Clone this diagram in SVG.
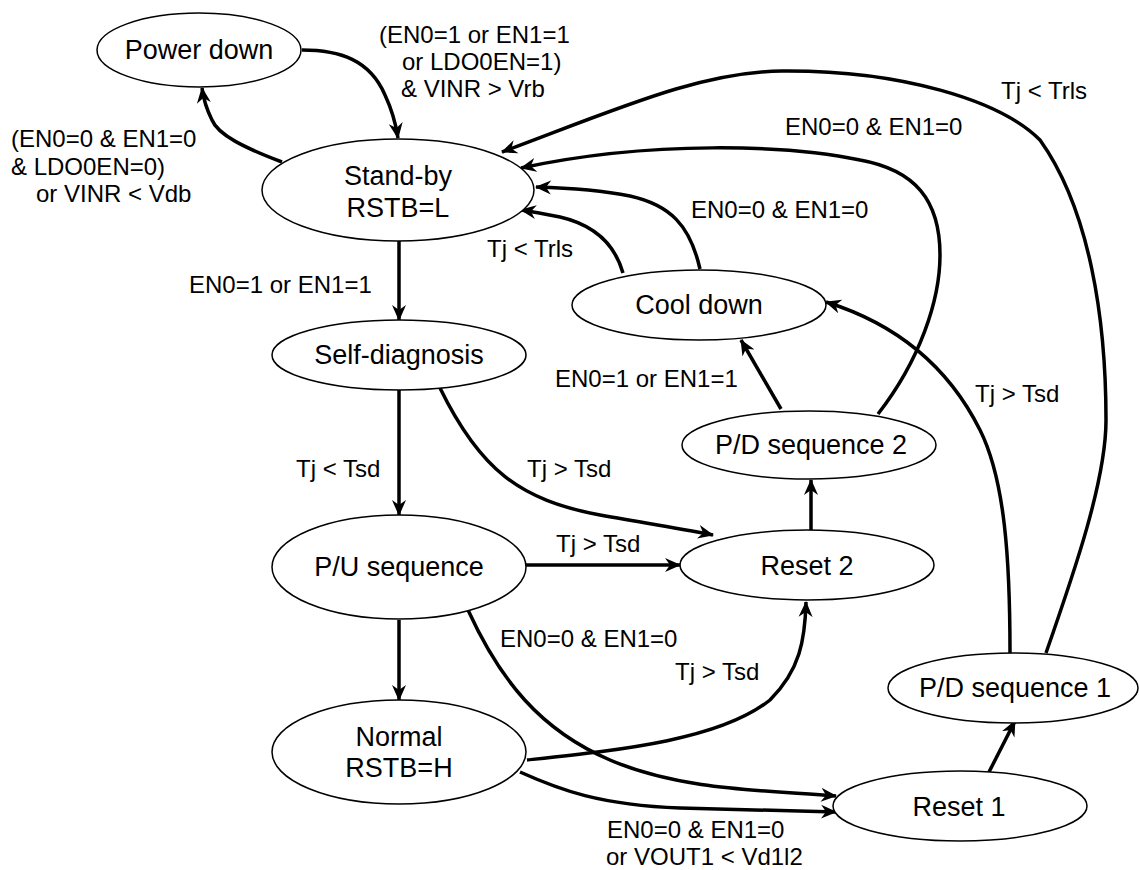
<svg xmlns="http://www.w3.org/2000/svg" width="1139" height="870" viewBox="0 0 1139 870">
<style>
.node ellipse{fill:#fff;stroke:#000;stroke-width:1.5}
.nt{font-family:"Liberation Sans",Arial,sans-serif;font-size:27px;text-anchor:middle;fill:#000}
.lb{font-family:"Liberation Sans",Arial,sans-serif;font-size:24px;fill:#000}
.edge{fill:none;stroke:#000;stroke-width:3.5;marker-end:url(#ah)}
</style>
<defs>
<marker id="ah" markerUnits="userSpaceOnUse" viewBox="0 0 16 16" refX="15" refY="8" markerWidth="16" markerHeight="16" orient="auto">
<path d="M0,1 L16,8 L0,15 L5,8 z" fill="#000"/>
</marker>
</defs>
<rect width="1139" height="870" fill="#fff"/>
<g id="connectors">
<path class="edge" d="M302,50 C340,50 370,60 385,95 C392,110 396,125 398,138"/>
<path class="edge" d="M282,162 C245,148 218,135 212,120 C206,108 203,96 202,88"/>
<path class="edge" d="M399,241 L399,320"/>
<path class="edge" d="M399,389 L399,515"/>
<path class="edge" d="M440,388 C480,470 520,500 600,515 C650,524 690,530 713,535"/>
<path class="edge" d="M526,565 L680,565"/>
<path class="edge" d="M399,620 L399,700"/>
<path class="edge" d="M468,610 C500,680 540,730 610,760 C680,790 760,790 836,796"/>
<path class="edge" d="M527,760 C620,750 720,740 770,700 C800,670 805,640 806,602"/>
<path class="edge" d="M520,772 C560,790 600,805 680,808 C740,810 790,811 836,812"/>
<path class="edge" d="M989,772 L1015,721"/>
<path class="edge" d="M811,531 L811,480"/>
<path class="edge" d="M781,409 L741,340"/>
<path class="edge" d="M1010,653 C1010,560 1005,480 980,430 C950,370 900,325 826,302"/>
<path class="edge" d="M623,273 C615,245 595,225 560,217 C545,214 535,212 521,210"/>
<path class="edge" d="M700,269 C690,225 670,205 630,196 C600,190 570,188 536,187"/>
<path class="edge" d="M878,414 C920,360 940,300 940,255 C940,200 915,170 860,160 C790,145 650,140 521,168"/>
<path class="edge" d="M1046,653 C1075,570 1106,480 1106,420 C1106,320 1090,210 1040,140 C1000,100 900,70 782,71 C700,72 620,108 502,152"/>
</g>
<g id="labels">
<text class="lb" x="379" y="43">(EN0=1 or EN1=1</text>
<text class="lb" x="402" y="70">or LDO0EN=1)</text>
<text class="lb" x="401" y="97">&amp; VINR &gt; Vrb</text>
<text class="lb" x="11" y="147">(EN0=0 &amp; EN1=0</text>
<text class="lb" x="11" y="175">&amp; LDO0EN=0)</text>
<text class="lb" x="36" y="202">or VINR &lt; Vdb</text>
<text class="lb" x="189" y="293">EN0=1 or EN1=1</text>
<text class="lb" x="487" y="257">Tj &lt; Trls</text>
<text class="lb" x="691" y="218">EN0=0 &amp; EN1=0</text>
<text class="lb" x="785" y="135">EN0=0 &amp; EN1=0</text>
<text class="lb" x="1001" y="99">Tj &lt; Trls</text>
<text class="lb" x="975" y="402">Tj &gt; Tsd</text>
<text class="lb" x="555" y="387">EN0=1 or EN1=1</text>
<text class="lb" x="296" y="477">Tj &lt; Tsd</text>
<text class="lb" x="527" y="477">Tj &gt; Tsd</text>
<text class="lb" x="556" y="552">Tj &gt; Tsd</text>
<text class="lb" x="500" y="647">EN0=0 &amp; EN1=0</text>
<text class="lb" x="675" y="680">Tj &gt; Tsd</text>
<text class="lb" x="607" y="838">EN0=0 &amp; EN1=0</text>
<text class="lb" x="606" y="865">or VOUT1 &lt; Vd1l2</text>
</g>
<g id="power-down" class="node"><ellipse cx="199" cy="50" rx="102" ry="37"/><text class="nt" x="199" y="59">Power down</text></g>
<g id="stand-by" class="node"><ellipse cx="398" cy="190" rx="136" ry="51"/><text class="nt" x="398" y="185">Stand-by</text><text class="nt" x="398" y="217">RSTB=L</text></g>
<g id="self-diagnosis" class="node"><ellipse cx="399" cy="355" rx="127" ry="35"/><text class="nt" x="399" y="364">Self-diagnosis</text></g>
<g id="pu-sequence" class="node"><ellipse cx="399" cy="567" rx="127" ry="52"/><text class="nt" x="399" y="576">P/U sequence</text></g>
<g id="normal" class="node"><ellipse cx="399" cy="752" rx="127" ry="52"/><text class="nt" x="399" y="746">Normal</text><text class="nt" x="399" y="777">RSTB=H</text></g>
<g id="cool-down" class="node"><ellipse cx="699" cy="305" rx="127" ry="35"/><text class="nt" x="699" y="314">Cool down</text></g>
<g id="pd-sequence-2" class="node"><ellipse cx="809" cy="445" rx="127" ry="34"/><text class="nt" x="811" y="454">P/D sequence 2</text></g>
<g id="reset-2" class="node"><ellipse cx="807" cy="565" rx="127" ry="35"/><text class="nt" x="807" y="575">Reset 2</text></g>
<g id="pd-sequence-1" class="node"><ellipse cx="1013" cy="688" rx="125" ry="35"/><text class="nt" x="1015" y="697">P/D sequence 1</text></g>
<g id="reset-1" class="node"><ellipse cx="960" cy="806" rx="127" ry="35"/><text class="nt" x="959" y="816">Reset 1</text></g>
</svg>
